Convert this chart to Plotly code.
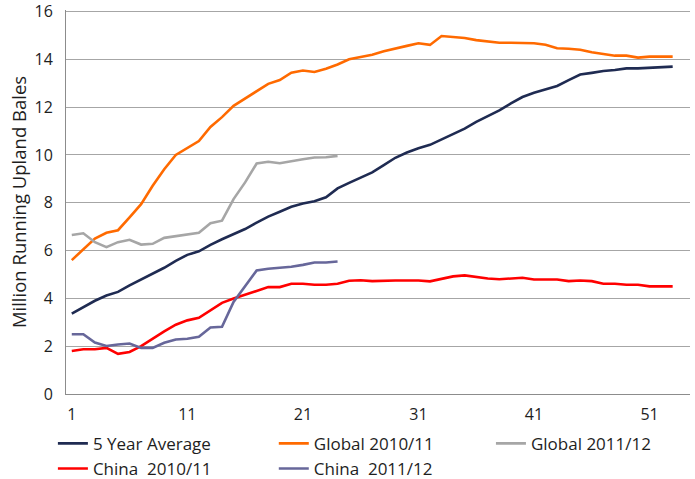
import plotly.graph_objects as go

weeks = list(range(1, 54))

avg_5yr = [3.36, 3.62, 3.90, 4.12, 4.27, 4.54, 4.78, 5.03, 5.28, 5.57,
           5.82, 5.97, 6.24, 6.47, 6.68, 6.90, 7.17, 7.42, 7.62, 7.83,
           7.97, 8.06, 8.23, 8.60, 8.83, 9.04, 9.27, 9.57, 9.88, 10.10,
           10.28, 10.42, 10.65, 10.90, 11.10, 11.38, 11.62, 11.86, 12.15, 12.42,
           12.60, 12.74, 12.88, 13.13, 13.36, 13.43, 13.51, 13.55, 13.62, 13.62,
           13.65, 13.68, 13.69]

global_1011 = [5.60, 6.05, 6.50, 6.74, 6.85, 7.39, 7.94, 8.71, 9.40, 10.00,
               10.30, 10.58, 11.17, 11.58, 12.05, 12.35, 12.67, 12.97, 13.13, 13.44,
               13.53, 13.47, 13.60, 13.78, 14.00, 14.08, 14.19, 14.33, 14.43, 14.56,
               14.67, 14.60, 14.97, 14.93, 14.89, 14.80, 14.73, 14.69, 14.69, 14.69,
               14.67, 14.61, 14.46, 14.44, 14.40, 14.29, 14.22, 14.15, 14.15, 14.07,
               14.11, 14.11, 14.11]

global_1112 = [6.65, 6.72, 6.35, 6.14, 6.35, 6.45, 6.25, 6.28, 6.53, 6.60,
               6.67, 6.74, 7.14, 7.25, 8.15, 8.85, 9.64, 9.71, 9.65, 9.75,
               9.82, 9.89, 9.90, 9.96]

china_1011 = [1.80, 1.87, 1.87, 1.93, 1.68, 1.76, 2.00, 2.32, 2.62, 2.90,
              3.08, 3.19, 3.50, 3.81, 3.99, 4.15, 4.33, 4.47, 4.47, 4.61,
              4.61, 4.57, 4.57, 4.61, 4.74, 4.76, 4.72, 4.75, 4.75, 4.75,
              4.75, 4.71, 4.82, 4.92, 4.96, 4.89, 4.83, 4.80, 4.82, 4.86,
              4.79, 4.79, 4.79, 4.72, 4.75, 4.72, 4.61, 4.61, 4.57, 4.57,
              4.50, 4.50, 4.50]

china_1112 = [2.50, 2.50, 2.15, 2.01, 2.07, 2.11, 1.93, 1.93, 2.14, 2.28,
              2.31, 2.39, 2.78, 2.81, 3.85, 4.50, 5.17, 5.24, 5.28, 5.32,
              5.40, 5.50, 5.50, 5.54]

# (name, values, colour, legend column)
series = [
    ("5 Year Average", avg_5yr, "#1F2B52", "legend"),
    ("Global 2010/11", global_1011, "#FF6A00", "legend2"),
    ("Global 2011/12", global_1112, "#A6A6A6", "legend3"),
    ("China  2010/11", china_1011, "#FF0000", "legend"),
    ("China  2011/12", china_1112, "#67679A", "legend2"),
]

x_ticks = [1, 11, 21, 31, 41, 51]
y_ticks = [0, 2, 4, 6, 8, 10, 12, 14, 16]

fig = go.Figure()
for name, vals, color, leg in series:
    fig.add_trace(go.Scatter(
        x=weeks[:len(vals)], y=vals, name=name, mode="lines",
        line=dict(color=color, width=2.6), legend=leg,
    ))

font_family = "Open Sans, Liberation Sans, Arial, sans-serif"
text_color = "#1E1E1E"
legend_font = dict(family=font_family, size=17, color=text_color)


def legend_box(x):
    return dict(
        orientation="v", x=x, xanchor="left", xref="paper",
        y=0.111, yanchor="top", yref="container",
        font=legend_font, tracegroupgap=0, itemwidth=30,
        bgcolor="rgba(0,0,0,0)", borderwidth=0,
    )


fig.update_layout(
    width=695, height=479,
    margin=dict(l=66, r=5, t=10, b=85, autoexpand=False),
    paper_bgcolor="white", plot_bgcolor="white",
    font=dict(family=font_family, size=16, color=text_color),
    showlegend=True,
    legend=legend_box(-0.021),
    legend2=legend_box(0.333),
    legend3=legend_box(0.681),
    xaxis=dict(
        range=[0.5, 54.5], tickmode="array", tickvals=x_ticks,
        ticktext=[str(t) for t in x_ticks],
        showgrid=False, zeroline=False, showline=True,
        linecolor="#8C8C8C", linewidth=1, ticks="", ticklabelstandoff=6,
        tickfont=dict(size=16),
    ),
    yaxis=dict(
        range=[0, 16.06], tickmode="array", tickvals=y_ticks,
        showgrid=True, gridcolor="#A6A6A6", gridwidth=1,
        zeroline=False, showline=True, linecolor="#8C8C8C", linewidth=1,
        ticks="", ticklabelstandoff=9, ticklabeloverflow="allow",
        tickfont=dict(size=16),
        title=dict(text="Million Running Upland Bales", font=dict(size=18.5), standoff=3),
    ),
)

fig.write_html(
    "out.html",
    config={"displayModeBar": False, "staticPlot": True},
    post_script="document.body.style.margin='0';document.body.style.overflow='hidden';",
)
